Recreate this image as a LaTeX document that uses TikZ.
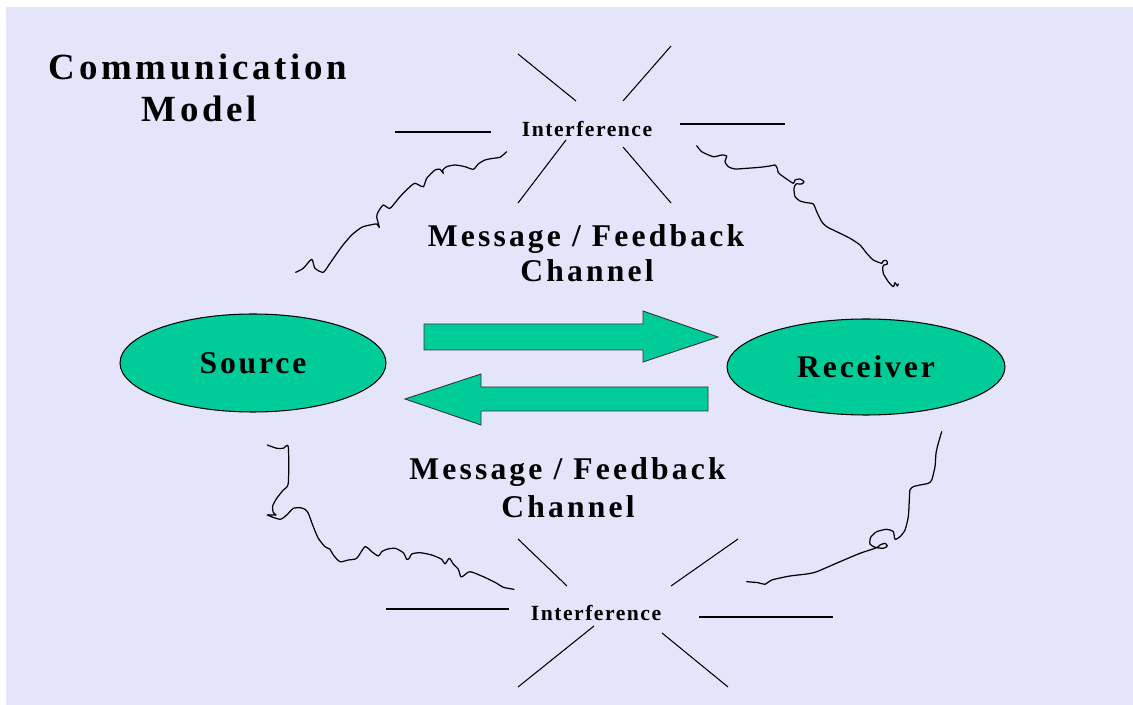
\documentclass[tikz,border=0pt]{standalone}
\usepackage{fontspec}
\setmainfont{Liberation Serif}
\newfontfamily\titlefont[LetterSpace=10]{Liberation Serif}
\newfontfamily\msgfont[LetterSpace=10]{Liberation Serif}
\newfontfamily\intfont[LetterSpace=7]{Liberation Serif}
\newfontfamily\elfont[LetterSpace=9]{Liberation Serif}
\usetikzlibrary{shapes.geometric}
\definecolor{bglav}{RGB}{228,228,250}
\definecolor{teal}{RGB}{0,204,153}
\tikzset{
  titletext/.style={anchor=base, inner sep=0, font=\titlefont\bfseries\fontsize{21}{24}\selectfont},
  msgtext/.style={anchor=base, inner sep=0, font=\msgfont\bfseries\fontsize{18}{21}\selectfont},
  inttext/.style={anchor=base, inner sep=0, font=\intfont\bfseries\fontsize{12.3}{14}\selectfont},
  party/.style={ellipse, draw=black, line width=0.6pt, fill=teal, inner sep=0,
     font=\elfont\bfseries\fontsize{18}{21}\selectfont},
  bigarrow/.style={fill=teal, draw=black!80, line width=0.5pt, line join=miter},
  ray/.style={draw=black, line width=0.6pt},
  scribble/.style={draw=black, line width=0.7pt, line join=round, line cap=round}
}
\begin{document}
\begin{tikzpicture}[x=0.02cm, y=-0.02cm]
\useasboundingbox (0,0) rectangle (1133,705);
\fill[white] (0,0) rectangle (1133,705);
\fill[bglav] (6,7) rectangle (1133,705);

% title
\node[titletext] (t1) at (198,80) {Communication};
\node[titletext] (t2) at (199.5,121.5) {Model};

% ellipses
\node[party, minimum width=5.32cm, minimum height=1.96cm] (src) at (253,363) {Source};
\node[party, minimum width=5.56cm, minimum height=1.92cm] (rcv) at (866,367) {Receiver};

% arrows
\filldraw[bigarrow] (424,324) -- (643,324) -- (643,311) -- (718,337) -- (643,362) -- (643,350) -- (424,350) -- cycle;
\filldraw[bigarrow] (708,387) -- (481,387) -- (481,374) -- (405,399) -- (481,425) -- (481,411) -- (708,411) -- cycle;

% channel labels
\node[msgtext] (m1) at (586,246.5) {Message / Feedback};
\node[msgtext] (c1) at (587,282) {Channel};
\node[msgtext] (m2) at (567.5,480) {Message / Feedback};
\node[msgtext] (c2) at (568,518) {Channel};

% top interference
\node[inttext] (i1) at (587,136.5) {Interference};
\draw[ray] (518,54) -- (576,101);
\draw[ray] (671,46) -- (623,101);
\draw[ray] (395,132) -- (491,132);
\draw[ray] (680,124) -- (785,124);
\draw[ray] (566,140) -- (518,203);
\draw[ray] (623,147) -- (671,203);

% bottom interference
\node[inttext] (i2) at (596,621) {Interference};
\draw[ray] (518,539) -- (567,586);
\draw[ray] (738,539) -- (671,586);
\draw[ray] (386,609) -- (509,609);
\draw[ray] (699,617) -- (833,617);
\draw[ray] (594,626) -- (518,687);
\draw[ray] (662,633) -- (728,687);

% scribbles (noise)
\draw[scribble] plot[smooth, tension=0.4] coordinates {
 (295.7,272.3) (303.3,268.3) (311.7,259.3) (315,268.3) (323.3,272.3) (330,263.3)
 (341.7,246.7) (351.7,235) (361.7,227.3) (370,225) (376.7,224) (379.3,227.3)
 (376.7,216.7) (378.3,211.7) (383.3,205) (390,208.3) (400,196.7) (410,186.7)
 (415,183.3) (423.3,186.7) (426.7,178.3) (435,170) (440,169.3) (443.3,173.3)
 (442.7,170) (446.7,166.7) (455,165) (465,166.7) (473.3,169.3) (478.3,164)
 (485,160) (493.3,158.3) (500,157.3) (506.7,151.7)};

\draw[scribble] plot[smooth, tension=0.4] coordinates {
 (696.7,145.7) (701.7,151.7) (713.3,156.7) (721.7,155) (726.7,156) (725,161.7)
 (728.3,166.7) (735,169) (746.7,168.3) (760,167.3) (770,166) (775,165)
 (777.3,168.3) (778.3,172.7) (783.3,176.7) (793.3,183.3) (795,180) (800,179)
 (804,181.7) (801.7,184) (796,184) (794,188.3) (795,196.7) (800,201)
 (806.7,202.7) (813.3,204) (816.7,211.7) (821.7,221.7) (826.7,226.7) (836.7,231.7)
 (850,238.3) (860,245) (866.7,253.3) (873.3,260) (881.7,263.3) (883.3,260.7)
 (886.7,260.7) (887.3,264) (884,265) (882.7,266.7) (883.3,273.3) (888.3,281.7)
 (893.3,286.7) (895,282.7) (897.3,286) (898.3,284)};

\draw[scribble] plot[smooth, tension=0.4] coordinates {
 (267.3,445) (276.7,448.3) (283.3,448.3) (288.3,446.7) (288.3,483.3) (283.3,490)
 (276.7,498.3) (272.7,506) (273.3,512.7) (276,515) (267.3,515) (280,519.3)
 (286.7,515) (293.3,508.3) (300,507.7) (305,509.3) (308.3,513.3) (313.3,526.7)
 (318.3,538.3) (325,546.7) (330,549.3) (333.3,555) (340,561.7) (348.3,560)
 (356.7,558.3) (365,546.7) (371.7,551.7) (378.3,556) (381.7,551.7) (386.7,549.3)
 (395,548.3) (403.3,552.7) (406.7,559.3) (409.3,558.3) (411.7,554) (420,552.7)
 (431.7,555) (441.7,559.3) (445,564) (449.3,558.3) (453.3,564) (458.3,569.3)
 (460.7,576.7) (463.3,576) (470,571.7) (483.3,576.7) (496.7,583.3) (503.3,587.3)
 (514,589.3)};

\draw[scribble] plot[smooth, tension=0.4] coordinates {
 (941.7,431.7) (938.3,443.3) (936,453.3) (935,466.7) (931.7,480) (928.3,483.3)
 (920,485) (913.3,486.7) (910,490) (909.3,500) (908.3,516.7) (905,530)
 (900,536.7) (895,539.3) (893.3,531.7) (886.7,529.3) (876.7,531.7) (870.7,537.3)
 (870,544) (875,547.3) (883.3,548.3) (887.3,546) (885,543.3) (880,545)
 (876.7,547.7) (860,553.3) (840,561.7) (816.7,571.7) (806.7,574) (790,576)
 (771.7,580) (765,584.3) (758.3,582.7) (746.7,581.7)};
\end{tikzpicture}
\end{document}
